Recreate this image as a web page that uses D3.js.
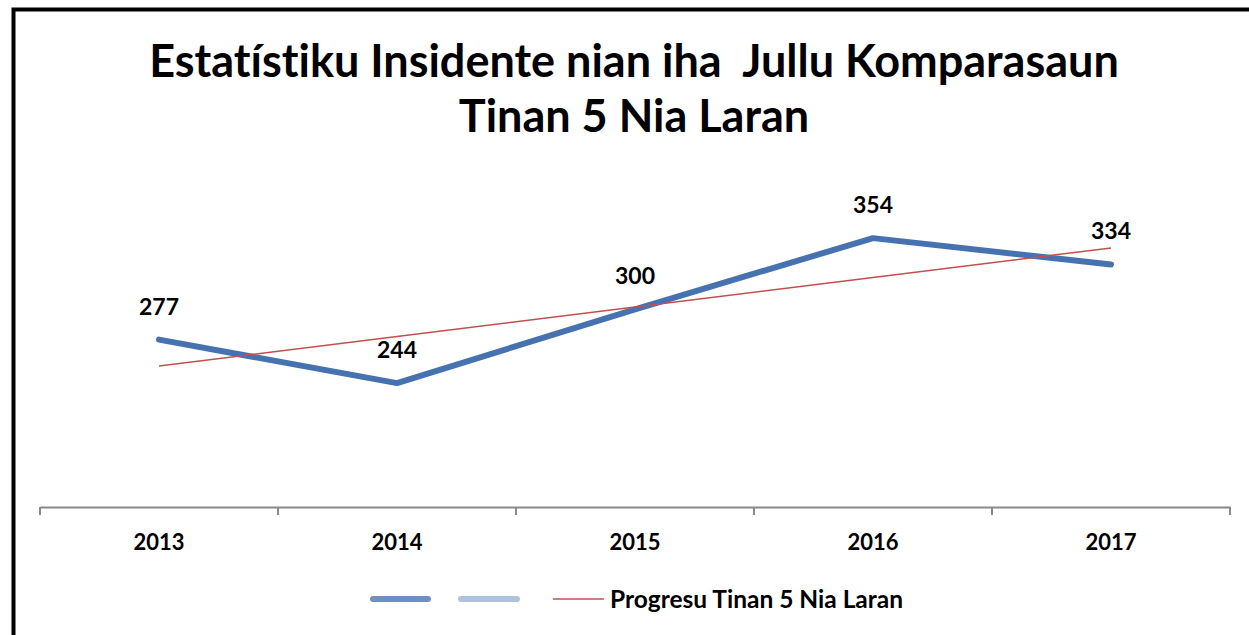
<!DOCTYPE html>
<html>
<head>
<meta charset="utf-8">
<script src="https://cdn.jsdelivr.net/npm/d3@7"></script>
<style>
  body { margin: 0; background: #fff; }
  svg { display: block; font-family: Lato, "Open Sans", sans-serif; font-variant-ligatures: none; font-feature-settings: "liga" 0; }
</style>
</head>
<body>
<svg id="drawing_region"></svg>
<script>
const years = ['2013', '2014', '2015', '2016', '2017'];
const incidents = [277, 244, 300, 354, 334];
const titleLines = ['Estatístiku Insidente nian iha  Jullu Komparasaun', 'Tinan 5 Nia Laran'];
const legendLabels = ['', '', 'Progresu Tinan 5 Nia Laran'];

const width = 1249, height = 635;
const svg = d3.select('#drawing_region')
    .attr('width', width)
    .attr('height', height);

// chart frame (only left and top edges show in the picture)
svg.append('rect')
    .attr('x', 13.5).attr('y', 9.5)
    .attr('width', 1300).attr('height', 700)
    .attr('fill', 'none')
    .attr('stroke', '#000')
    .attr('stroke-width', 4);

// title
svg.append('text')
    .attr('text-anchor', 'middle')
    .attr('font-size', 45)
    .attr('font-weight', 'bold')
    .selectAll('tspan')
    .data(titleLines)
    .join('tspan')
    .attr('x', 634)
    .attr('y', (d, i) => 77 + i * 55)
    .style('white-space', 'pre')
    .text(d => d);

const xscale = d3.scaleBand()
    .domain(years)
    .range([40, 1230]);

const yscale = d3.scaleLinear()
    .domain([150, 400])
    .range([507, 177.5]);

const cx = d => xscale(d) + xscale.bandwidth() / 2;

// category axis
const xaxis = d3.axisBottom(xscale).tickSize(0).tickPadding(0);
const xg = svg.append('g')
    .attr('transform', 'translate(0,507)')
    .call(xaxis);
xg.select('.domain').attr('stroke', '#898989').attr('stroke-width', 2);
xg.selectAll('.tick text')
    .attr('dy', null)
    .attr('y', 43)
    .attr('font-size', 22)
    .attr('font-weight', 'bold')
    .attr('font-family', 'Lato, sans-serif')
    .attr('fill', '#000');
const edges = years.map(d => xscale(d)).concat([xscale.range()[1]]);
xg.selectAll('.edge')
    .data(edges)
    .join('line')
    .attr('class', 'edge')
    .attr('x1', d => d).attr('x2', d => d)
    .attr('y1', 0).attr('y2', 8)
    .attr('stroke', '#898989')
    .attr('stroke-width', 2);

// linear trend (least squares over the series)
const xs = years.map((d, i) => i + 1);
const mx = d3.mean(xs), my = d3.mean(incidents);
const slope = d3.sum(xs, (x, i) => (x - mx) * (incidents[i] - my)) / d3.sum(xs, x => (x - mx) ** 2);
const trend = xs.map(x => my + slope * (x - mx));

const line = d3.line()
    .x((d, i) => cx(years[i]))
    .y(d => yscale(d));

svg.append('path')
    .attr('d', line(incidents))
    .attr('fill', 'none')
    .attr('stroke', '#4673B0')
    .attr('stroke-width', 6)
    .attr('stroke-linejoin', 'round')
    .attr('stroke-linecap', 'round');

svg.append('path')
    .attr('d', line(trend))
    .attr('fill', 'none')
    .attr('stroke', '#C0504D')
    .attr('stroke-width', 1.5);

// value labels
svg.selectAll('.val')
    .data(incidents)
    .join('text')
    .attr('class', 'val')
    .attr('x', (d, i) => cx(years[i]))
    .attr('y', d => yscale(d) - 25)
    .attr('text-anchor', 'middle')
    .attr('font-size', 23)
    .attr('font-weight', 'bold')
    .text(d => d);

// legend
const legend = [
    {x1: 373, x2: 428, color: '#6E8FC4', w: 6, cap: 'round'},
    {x1: 461, x2: 517, color: '#AFC2DD', w: 6, cap: 'round'},
    {x1: 553, x2: 604, color: '#C0504D', w: 1.5, cap: 'butt'}
];
const lg = svg.append('g').attr('transform', 'translate(0,599)');
lg.selectAll('line')
    .data(legend)
    .join('line')
    .attr('x1', d => d.x1).attr('x2', d => d.x2)
    .attr('y1', 0).attr('y2', 0)
    .attr('stroke', d => d.color)
    .attr('stroke-width', d => d.w)
    .attr('stroke-linecap', d => d.cap);
lg.selectAll('text')
    .data(legend)
    .join('text')
    .attr('x', d => d.x2 + 6)
    .attr('y', 9)
    .attr('font-size', 24.5)
    .attr('font-weight', 'bold')
    .text((d, i) => legendLabels[i]);
</script>
</body>
</html>
